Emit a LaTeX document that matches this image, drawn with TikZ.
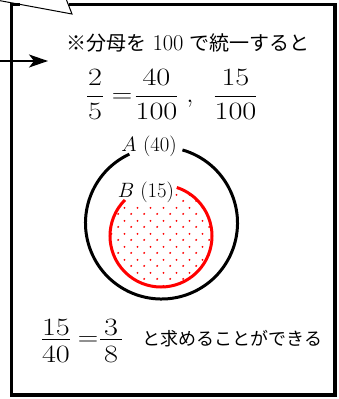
\documentclass[tikz,border=0pt]{standalone}
\usepackage{graphicx}
\usepackage{fontspec}
\newfontfamily\cjk{Noto Sans CJK JP}
\usetikzlibrary{arrows.meta,patterns.meta}
\tikzdeclarepattern{
  name=reddots, type=uncolored,
  bounding box={(0pt,0pt) and (12.8pt,13pt)},
  tile size={(12.8pt,13pt)},
  code={\fill (3.2pt,3.25pt) circle (1.1pt); \fill (9.6pt,9.75pt) circle (1.1pt);}
}
\newcommand{\wfrac}[3][0pt]{\scalebox{1.22}[1]{$\displaystyle\frac{\kern#1 #2\kern#1}{#3}$}}
\newcommand{\weq}{\scalebox{1.14}[1]{$=$}}
\tikzset{
  frame/.style={line width=3.3pt, line join=miter},
  tailline/.style={line width=1pt},
  mathrow/.style={font=\fontsize{23.5}{28}\selectfont, inner sep=0pt, anchor=base},
  circA/.style={line width=3pt},
  circB/.style={red, line width=3pt},
}
\begin{document}
\begin{tikzpicture}[x=1pt,y=-1pt]
\useasboundingbox (0,0) rectangle (338,399);
% frame with speech-bubble tail
\draw[frame] (20,4.5) -- (11.5,4.5) -- (11.5,395) -- (335,395) -- (335,4.5) -- (68.6,4.5);
\coordinate (tA) at (-1,0.5);
\coordinate (tB) at (72,14);
\coordinate (tC) at (66.5,0);
\draw[tailline] (tA) -- (tB) -- (tC);
% arrow
\coordinate (arrS) at (0,61);
\coordinate (arrT) at (48,61);
\draw[line width=1.5pt, -{Stealth[length=19pt,width=13pt,inset=5pt]}] (arrS) -- (arrT);
% title
\node[font=\fontsize{20}{24}\selectfont, inner sep=0pt] (title) at (188,43) {{\cjk ※分母を} {\fontsize{22.5}{24}\selectfont 100} {\cjk で統一すると}};
% top fractions
\node[mathrow] (f1) at (95,102.6) {\wfrac[0.7pt]{2}{5}};
\node[mathrow] (eq1) at (122,102.6) {\weq};
\node[mathrow] (f2) at (156.5,102.6) {\wfrac{40}{100}};
\node[mathrow] (cm) at (190,102.6) {$,$};
\node[mathrow] (f3) at (235.5,102.6) {\wfrac{15}{100}};
% circles
\coordinate (Ac) at (161.5,223);
\coordinate (Bc) at (161,236);
\fill[pattern=reddots, pattern color=red] (Bc) circle (51);
\node[fill=white, inner sep=1pt, anchor=base, font=\fontsize{20}{23}\selectfont] (Blab) at (146,197) {$B\ (15)$};
\draw[circB] ([shift={(-135:51)}]Bc) arc[start angle=-135, end angle=-432, radius=51];
\draw[circA] ([shift={(-115:76)}]Ac) arc[start angle=-115, end angle=-434, radius=76];
\node[anchor=base, font=\fontsize{21.5}{25}\selectfont, inner sep=0pt] (Alab) at (149,151) {$A\ (40)$};
% bottom
\node[mathrow] (g1) at (56,345.9) {\wfrac{\raisebox{-6pt}{$15$}}{40}};
\node[mathrow] (eq2) at (88,345.9) {\weq};
\node[mathrow] (g2) at (111,345.9) {\wfrac[3.1pt]{\raisebox{-6pt}{$3$}}{8}};
\node[font=\cjk\fontsize{18}{22}\selectfont, inner sep=0pt] (res) at (232.5,339) {と求めることができる};
\end{tikzpicture}
\end{document}
